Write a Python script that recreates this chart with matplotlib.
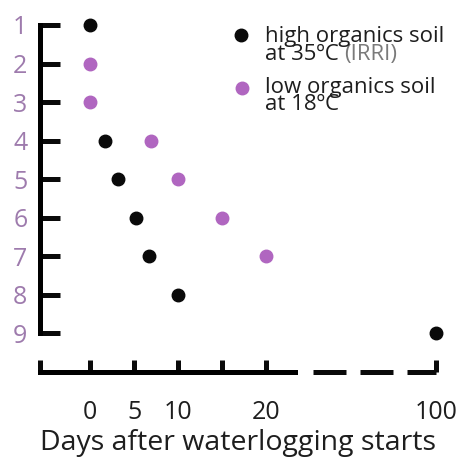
import numpy as np
import matplotlib
matplotlib.use("Agg")
import matplotlib.pyplot as plt

plt.rcParams['font.family'] = ['Open Sans', 'DejaVu Sans']

# data
high_days = [0, 1.7, 3.2, 5.2, 6.7, 10, 100]
high_level = [1, 4, 5, 6, 7, 8, 9]
low_days = [0, 0, 6.9, 10, 15, 20]
low_level = [2, 3, 4, 5, 6, 7]
x_ticks = [0, 5, 10, 15, 20, 100]
x_ticklabels = ['0', '5', '10', '', '20', '100']
y_ticks = [1, 2, 3, 4, 5, 6, 7, 8, 9]
y_ticklabels = ['1', '2', '3', '4', '5', '6', '7', '8', '9']
label_high_1 = "high organics soil"
label_high_2 = "at 35ºC"
label_high_extra = "(IRRI)"
label_low_1 = "low organics soil"
label_low_2 = "at 18ºC"
xlabel = "Days after waterlogging starts"

BLACK = '#0a0a0a'
PURPLE = '#B066C0'
LABEL_PURPLE = '#9E7BAD'
TEXT = '#1e1e1e'

BREAK = 25.0
K = (39.3 - 25.0) / 75.0

def fwd(x):
    x = np.asarray(x, dtype=float)
    return np.where(x <= BREAK, x, BREAK + (x - BREAK) * K)

def inv(y):
    y = np.asarray(y, dtype=float)
    return np.where(y <= BREAK, y, BREAK + (y - BREAK) / K)

W, H = 464, 457
fig = plt.figure(figsize=(W / 100, H / 100), dpi=100)
ax = fig.add_axes([40/W, 1 - 372/H, 396/W, 347/H])
ax.set_xscale('function', functions=(fwd, inv))
ax.set_xlim(-5.7, 100)
ax.set_ylim(10, 1)

ax.plot(high_days, high_level, 'o', color=BLACK, ms=9, clip_on=False, zorder=5)
ax.plot(low_days, low_level, 'o', color=PURPLE, ms=9, clip_on=False, zorder=5)

for s in ['top', 'right']:
    ax.spines[s].set_visible(False)
ax.spines['left'].set_bounds(1, 9)
ax.spines['left'].set_linewidth(3.6)
ax.spines['left'].set_capstyle('projecting')
ax.spines['bottom'].set_bounds(-5.7, 23.3)
ax.spines['bottom'].set_linewidth(3.6)

# dashed continuation of broken x axis
ax.plot([26.6, 100], [10, 10], color=BLACK, lw=3.6, clip_on=False,
        dashes=(6.6, 2.8), solid_capstyle='butt', dash_capstyle='butt', zorder=4)

ax.set_yticks(y_ticks)
ax.set_yticklabels(y_ticklabels)
ax.tick_params(axis='y', direction='in', length=14.4, width=3.6, pad=9,
               labelsize=18, labelcolor=LABEL_PURPLE, color=BLACK)

ax.set_xticks(x_ticks)
ax.set_xticklabels(x_ticklabels)
ax.set_xticks([-5.7], minor=True)
ax.tick_params(axis='x', which='both', direction='in', length=9, width=3.6,
               pad=20, labelsize=18, labelcolor=TEXT, color=BLACK)
ax.set_xlabel(xlabel, fontsize=20.5, color=TEXT, labelpad=3)

# legend
ax.plot([0.508], [1 - (35 - 25) / 347], 'o', color=BLACK, ms=9,
        transform=ax.transAxes, clip_on=False)
ax.plot([0.510], [1 - (88 - 25) / 347], 'o', color=PURPLE, ms=9,
        transform=ax.transAxes, clip_on=False)
fs = 16
tx = 265 / W
fig.text(tx, 1 - 42/H, label_high_1, fontsize=fs, va='baseline', ha='left', color=TEXT)
t2 = fig.text(tx, 1 - 60/H, label_high_2, fontsize=fs, va='baseline', ha='left', color=TEXT)
ax.annotate(label_high_extra, xy=(1, 0), xycoords=t2, xytext=(4, 0),
            textcoords='offset points', ha='left', va='bottom', fontsize=fs,
            color='#7a7a7a')
fig.text(tx, 1 - 93/H, label_low_1, fontsize=fs, va='baseline', ha='left', color=TEXT)
fig.text(tx, 1 - 110/H, label_low_2, fontsize=fs, va='baseline', ha='left', color=TEXT)

fig.savefig('out.png', dpi=100)
